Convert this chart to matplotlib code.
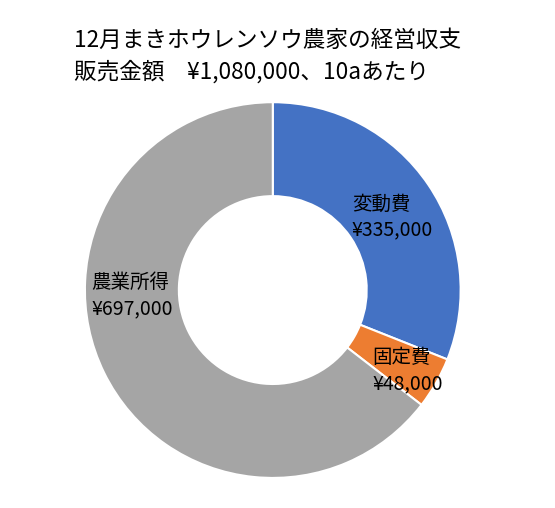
import matplotlib
matplotlib.use("Agg")
import matplotlib.pyplot as plt

plt.rcParams['font.family'] = ['Noto Sans CJK JP', 'DejaVu Sans']

categories = ['変動費', '固定費', '農業所得']
values = [335000, 48000, 697000]
colors = ['#4472C4', '#ED7D31', '#A5A5A5']
title1 = '12月まきホウレンソウ農家の経営収支'
title2 = '販売金額\u3000¥1,080,000、10aあたり'

fig = plt.figure(figsize=(5.55, 5.08), dpi=100)
ax = fig.add_axes([0.153, 0.059, 0.677, 0.740])
ax.pie(values, colors=colors, startangle=90, counterclock=False,
       wedgeprops=dict(width=0.5, edgecolor='white', linewidth=1.5))
ax.set_xlim(-1, 1)
ax.set_ylim(-1, 1)
ax.set_aspect('equal')

label_pos = [(0.42, 0.39), (0.53, -0.43), (-0.965, -0.03)]
for cat, val, (x, y) in zip(categories, values, label_pos):
    ax.text(x, y, f'{cat}\n¥{val:,}', ha='left', va='center', fontsize=14,
            linespacing=1.3, color='black')

fig.text(0.133, 1 - 29 / 508, title1, ha='left', va='top', fontsize=16.3)
fig.text(0.133, 1 - 60 / 508, title2, ha='left', va='top', fontsize=16.3)

fig.savefig('out.png', dpi=100)
